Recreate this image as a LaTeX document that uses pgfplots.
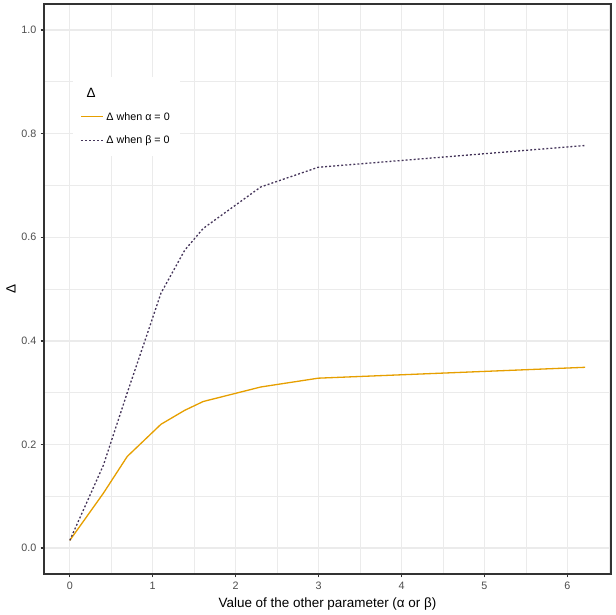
\documentclass[border=0pt]{standalone}
\usepackage{pgfplots}
\pgfplotsset{compat=1.18}
\usepackage{fontspec}
\setmainfont{Liberation Sans}
\definecolor{orangeL}{HTML}{E69F00}
\definecolor{purpD}{HTML}{45355A}
\definecolor{grid92}{HTML}{EBEBEB}
\definecolor{gray20}{HTML}{333333}
\definecolor{gray30}{HTML}{4D4D4D}
\pgfplotstableread{
x y
0.000 0.015
0.405 0.106
0.693 0.177
0.916 0.211
1.099 0.239
1.386 0.266
1.609 0.283
2.303 0.311
2.996 0.328
6.215 0.349
}\alphazero
\pgfplotstableread{
x y
0.000 0.015
0.405 0.160
0.693 0.300
0.916 0.405
1.099 0.492
1.386 0.575
1.609 0.617
2.303 0.697
2.996 0.735
6.215 0.777
}\betazero
\begin{document}
\begin{tikzpicture}
\begin{axis}[
  name=ax,
  scale only axis, width=463.8pt, height=466.3pt,
  at={(0,0)}, anchor=south west,
  xmin=-0.311, xmax=6.526, ymin=-0.05, ymax=1.05,
  xtick={0,1,2,3,4,5,6}, ytick={0,0.2,0.4,0.6,0.8,1},
  minor xtick={-0.5,0.5,1.5,2.5,3.5,4.5,5.5,6.5},
  minor ytick={0.1,0.3,0.5,0.7,0.9},
  grid=both,
  major grid style={draw=grid92, line width=1.07pt},
  minor grid style={draw=grid92, line width=0.53pt},
  axis line style={draw=gray20, line width=1.07pt},
  tick align=outside, major tick length=2.75pt, minor tick length=0pt,
  every tick/.style={draw=gray20, line width=1.07pt},
  tick pos=left,
  xticklabel style={font=\fontsize{8.8}{10}\selectfont, text=gray30},
  yticklabel style={font=\fontsize{8.8}{10}\selectfont, text=gray30,
    /pgf/number format/.cd, fixed, fixed zerofill, precision=1},
  /pgf/number format/assume math mode=true,
  legend style={at={(axis cs:0.036,0.910)}, anchor=north west, draw=none,
    fill=white, font=\fontsize{8.8}{10}\selectfont, row sep=7pt,
    inner xsep=6pt, inner ysep=7pt},
  legend cell align=left,
]
\addlegendimage{empty legend}
\addlegendentry{\hspace*{-22pt}\fontsize{11}{13}\selectfont Δ}
\addlegendimage{legend image code/.code={\draw[orangeL, line width=1.3pt] (0pt,0.4pt) -- (18pt,0.4pt);}}
\addlegendentry{Δ when α = 0}
\addlegendimage{legend image code/.code={\draw[purpD, line width=1.07pt, dash pattern=on 1.6pt off 1.7pt] (0pt,0pt) -- (18pt,0pt);}}
\addlegendentry{Δ when β = 0}
\addplot[orangeL, line width=1.07pt, forget plot] table[x=x,y=y] {\alphazero};
\addplot[purpD, line width=1.07pt, dash pattern=on 1.6pt off 1.7pt, forget plot] table[x=x,y=y] {\betazero};
\end{axis}
\node[font=\fontsize{11}{13}\selectfont, rotate=90] at ([xshift=-27pt]ax.west) {Δ};
\node[font=\fontsize{11}{13}\selectfont] at ([yshift=-24.5pt]ax.south) {Value of the other parameter (α or β)};
\path[use as bounding box] (-36pt,-32.7pt) rectangle (467.9pt,469.6pt);
\end{tikzpicture}
\end{document}
